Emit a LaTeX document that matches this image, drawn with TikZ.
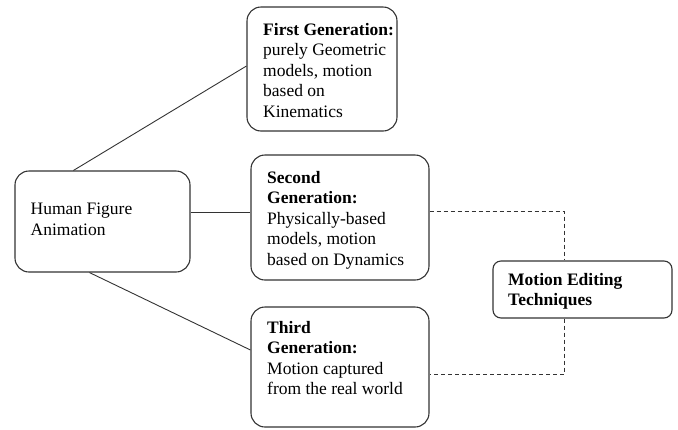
\documentclass[tikz,border=0pt]{standalone}
\usepackage{fontspec}
\setmainfont{Liberation Serif}
\usetikzlibrary{calc}
\begin{document}
\begin{tikzpicture}[x=1pt,y=-1pt,
  box/.style={draw=black!80, line width=1.1pt, rounded corners=14pt, inner sep=0pt},
  txt/.style={anchor=north west, inner sep=0pt, align=left, font=\fontsize{17.5}{20.5}\selectfont},
  conn/.style={draw=black!80, line width=0.9pt},
  dconn/.style={draw=black!80, line width=0.9pt, dash pattern=on 4pt off 3pt}]
\useasboundingbox (0,0) rectangle (678,429);
\node[box, minimum width=175pt, minimum height=101pt] (h) at (102.5,221.5) {};
\node[box, minimum width=150pt, minimum height=124pt] (f) at (322,69) {};
\node[box, minimum width=178pt, minimum height=125pt] (s) at (340,217.5) {};
\node[box, minimum width=178pt, minimum height=120pt] (t) at (340,367) {};
\node[box, rounded corners=8pt, minimum width=179pt, minimum height=57pt] (m) at (582.5,289.5) {};
\node[txt] (ht) at (30.5,203) {Human Figure\\Animation};
\node[txt] (ft) at (263,23) {\textbf{First Generation:}\\purely Geometric\\models, motion\\based on\\Kinematics};
\node[txt] (st) at (267,171) {\textbf{Second}\\\textbf{Generation:}\\Physically-based\\models, motion\\based on Dynamics};
\node[txt] (tt) at (267,321) {\textbf{Third}\\\textbf{Generation:}\\Motion captured\\from the real world};
\node[txt] (mt) at (508,273) {\textbf{Motion Editing}\\\textbf{Techniques}};
\draw[conn] ([xshift=59pt]h.north west) -- ([yshift=3pt]f.west);
\draw[conn] ([yshift=9pt]h.east) -- ([yshift=9pt]h.east -| s.west);
\draw[conn] ([xshift=75pt]h.south west) -- ([yshift=17pt]t.west);
\draw[dconn] ([yshift=6.5pt]s.east) -| ([xshift=-18.5pt]m.north);
\draw[dconn] ([xshift=-18.5pt]m.south) |- ([yshift=-7.5pt]t.east);
\end{tikzpicture}
\end{document}
